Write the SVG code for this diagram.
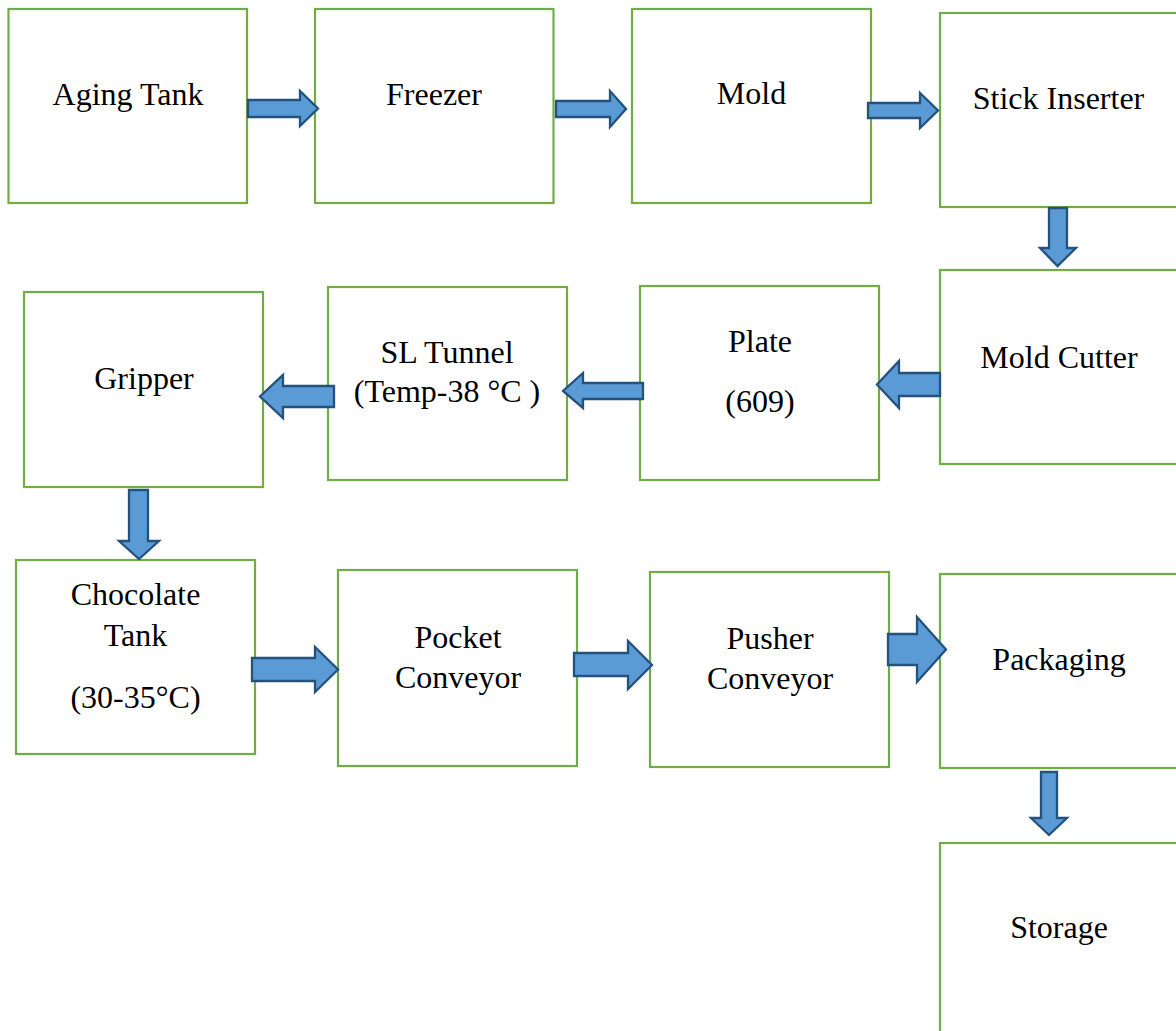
<svg xmlns="http://www.w3.org/2000/svg" width="1176" height="1031" viewBox="0 0 1176 1031">
<style>
.box{fill:#ffffff;stroke:#70AD47;stroke-width:2.2}
.t{font-family:"Liberation Serif","Times New Roman",serif;font-size:32px;fill:#000;text-anchor:middle}
.arr{fill:#5B9BD5;stroke:#24527F;stroke-width:2.3;stroke-linejoin:miter}
</style>
<rect width="1176" height="1031" fill="#ffffff"/>
<g id="aging-tank"><rect class="box" x="8.5" y="9" width="238.5" height="194"/><text class="t" x="128" y="105">Aging Tank</text></g>
<g id="freezer"><rect class="box" x="315" y="9" width="238.5" height="194"/><text class="t" x="434" y="105">Freezer</text></g>
<g id="mold"><rect class="box" x="632" y="9" width="239" height="194"/><text class="t" x="751.5" y="104">Mold</text></g>
<g id="stick-inserter"><rect class="box" x="940" y="13" width="239" height="194"/><text class="t" x="1058.5" y="109">Stick Inserter</text></g>
<g id="mold-cutter"><rect class="box" x="940" y="270" width="239" height="194"/><text class="t" x="1059" y="368">Mold Cutter</text></g>
<g id="plate"><rect class="box" x="640" y="286" width="239" height="194"/><text class="t" x="760" y="352">Plate</text><text class="t" x="760" y="412">(609)</text></g>
<g id="sl-tunnel"><rect class="box" x="328" y="287" width="239" height="193"/><text class="t" x="447" y="363">SL Tunnel</text><text class="t" x="447" y="402">(Temp-38 °C )</text></g>
<g id="gripper"><rect class="box" x="24" y="292" width="239" height="195"/><text class="t" x="144" y="389">Gripper</text></g>
<g id="chocolate-tank"><rect class="box" x="16" y="560" width="239" height="194"/><text class="t" x="135.5" y="605">Chocolate</text><text class="t" x="135.5" y="646">Tank</text><text class="t" x="135.5" y="708">(30-35°C)</text></g>
<g id="pocket-conveyor"><rect class="box" x="338" y="570" width="239" height="196"/><text class="t" x="458" y="648">Pocket</text><text class="t" x="458" y="688">Conveyor</text></g>
<g id="pusher-conveyor"><rect class="box" x="650" y="572" width="239" height="195"/><text class="t" x="770" y="649">Pusher</text><text class="t" x="770" y="689">Conveyor</text></g>
<g id="packaging"><rect class="box" x="940" y="574" width="239" height="194"/><text class="t" x="1059" y="670">Packaging</text></g>
<g id="storage"><rect class="box" x="940" y="843" width="239" height="194"/><text class="t" x="1059" y="938">Storage</text></g>
<g id="connectors">
<path class="arr" d="M248,100 H300 V91 L318,108.5 L300,126 V117 H248 Z"/>
<path class="arr" d="M556,101 H610 V91 L626,109 L610,127 V117 H556 Z"/>
<path class="arr" d="M868,103 H920 V93 L938,110.5 L920,128 V118 H868 Z"/>
<path class="arr" d="M1049,208 V248 H1040 L1057.5,266 L1076,248 H1067 V208 Z"/>
<path class="arr" d="M940,373 H899 V361 L877,384.5 L899,408 V396 H940 Z"/>
<path class="arr" d="M643,383 H583 V373 L563,391 L583,408 V399 H643 Z"/>
<path class="arr" d="M334,386 H283 V375 L260,396.5 L283,418 V407 H334 Z"/>
<path class="arr" d="M129,490 V541 H119 L139,559 L159,541 H148 V490 Z"/>
<path class="arr" d="M252,658 H315 V647 L338,669.5 L315,692 V681 H252 Z"/>
<path class="arr" d="M574,653 H628 V641 L652,665 L628,689 V676 H574 Z"/>
<path class="arr" d="M888,634 H917 V617 L946,649.5 L917,682 V665 H888 Z"/>
<path class="arr" d="M1041,772 V818 H1031 L1049,835 L1067,818 H1057 V772 Z"/>
</g>
</svg>
